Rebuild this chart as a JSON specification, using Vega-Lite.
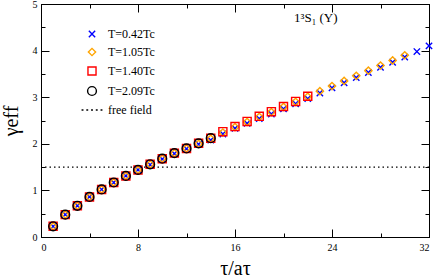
{
  "$schema": "https://vega.github.io/schema/vega-lite/v6.json",
  "width": 388,
  "height": 233,
  "autosize": "none",
  "padding": {"left": 41, "top": 4, "right": 7, "bottom": 43},
  "background": "white",
  "title": {"text": "1³S₁ (Υ)", "anchor": "start", "frame": "group", "dx": 253, "offset": -26, "font": "Liberation Serif", "fontSize": 13, "fontWeight": "normal", "color": "black"},
  "config": {
    "view": {"stroke": "black", "strokeWidth": 1},
    "axis": {"labelFont": "Liberation Serif", "labelFontSize": 10, "labelColor": "black", "tickColor": "black", "domainColor": "black", "domainWidth": 1, "tickWidth": 1, "grid": false, "titleFont": "Liberation Serif", "titleColor": "black", "titleFontWeight": "normal"},
    "legend": {"labelFont": "Liberation Serif", "labelFontSize": 12, "labelColor": "black"}
  },
  "datasets": {
    "pts": [
      {"tau": 1, "gamma": 0.23, "series": "T=0.42Tc"},
      {"tau": 2, "gamma": 0.48, "series": "T=0.42Tc"},
      {"tau": 3, "gamma": 0.67, "series": "T=0.42Tc"},
      {"tau": 4, "gamma": 0.86, "series": "T=0.42Tc"},
      {"tau": 5, "gamma": 1.02, "series": "T=0.42Tc"},
      {"tau": 6, "gamma": 1.17, "series": "T=0.42Tc"},
      {"tau": 7, "gamma": 1.31, "series": "T=0.42Tc"},
      {"tau": 8, "gamma": 1.44, "series": "T=0.42Tc"},
      {"tau": 9, "gamma": 1.55, "series": "T=0.42Tc"},
      {"tau": 10, "gamma": 1.67, "series": "T=0.42Tc"},
      {"tau": 11, "gamma": 1.79, "series": "T=0.42Tc"},
      {"tau": 12, "gamma": 1.89, "series": "T=0.42Tc"},
      {"tau": 13, "gamma": 1.99, "series": "T=0.42Tc"},
      {"tau": 14, "gamma": 2.08, "series": "T=0.42Tc"},
      {"tau": 15, "gamma": 2.21, "series": "T=0.42Tc"},
      {"tau": 16, "gamma": 2.33, "series": "T=0.42Tc"},
      {"tau": 17, "gamma": 2.44, "series": "T=0.42Tc"},
      {"tau": 18, "gamma": 2.54, "series": "T=0.42Tc"},
      {"tau": 19, "gamma": 2.64, "series": "T=0.42Tc"},
      {"tau": 20, "gamma": 2.75, "series": "T=0.42Tc"},
      {"tau": 21, "gamma": 2.86, "series": "T=0.42Tc"},
      {"tau": 22, "gamma": 2.97, "series": "T=0.42Tc"},
      {"tau": 23, "gamma": 3.09, "series": "T=0.42Tc"},
      {"tau": 24, "gamma": 3.20, "series": "T=0.42Tc"},
      {"tau": 25, "gamma": 3.31, "series": "T=0.42Tc"},
      {"tau": 26, "gamma": 3.42, "series": "T=0.42Tc"},
      {"tau": 27, "gamma": 3.53, "series": "T=0.42Tc"},
      {"tau": 28, "gamma": 3.64, "series": "T=0.42Tc"},
      {"tau": 29, "gamma": 3.75, "series": "T=0.42Tc"},
      {"tau": 30, "gamma": 3.86, "series": "T=0.42Tc"},
      {"tau": 31, "gamma": 3.98, "series": "T=0.42Tc"},
      {"tau": 32, "gamma": 4.10, "series": "T=0.42Tc"},
      {"tau": 1, "gamma": 0.23, "series": "T=1.05Tc"},
      {"tau": 2, "gamma": 0.48, "series": "T=1.05Tc"},
      {"tau": 3, "gamma": 0.67, "series": "T=1.05Tc"},
      {"tau": 4, "gamma": 0.86, "series": "T=1.05Tc"},
      {"tau": 5, "gamma": 1.02, "series": "T=1.05Tc"},
      {"tau": 6, "gamma": 1.17, "series": "T=1.05Tc"},
      {"tau": 7, "gamma": 1.31, "series": "T=1.05Tc"},
      {"tau": 8, "gamma": 1.44, "series": "T=1.05Tc"},
      {"tau": 9, "gamma": 1.56, "series": "T=1.05Tc"},
      {"tau": 10, "gamma": 1.68, "series": "T=1.05Tc"},
      {"tau": 11, "gamma": 1.80, "series": "T=1.05Tc"},
      {"tau": 12, "gamma": 1.90, "series": "T=1.05Tc"},
      {"tau": 13, "gamma": 2.00, "series": "T=1.05Tc"},
      {"tau": 14, "gamma": 2.11, "series": "T=1.05Tc"},
      {"tau": 15, "gamma": 2.24, "series": "T=1.05Tc"},
      {"tau": 16, "gamma": 2.36, "series": "T=1.05Tc"},
      {"tau": 17, "gamma": 2.47, "series": "T=1.05Tc"},
      {"tau": 18, "gamma": 2.58, "series": "T=1.05Tc"},
      {"tau": 19, "gamma": 2.68, "series": "T=1.05Tc"},
      {"tau": 20, "gamma": 2.79, "series": "T=1.05Tc"},
      {"tau": 21, "gamma": 2.90, "series": "T=1.05Tc"},
      {"tau": 22, "gamma": 3.01, "series": "T=1.05Tc"},
      {"tau": 23, "gamma": 3.13, "series": "T=1.05Tc"},
      {"tau": 24, "gamma": 3.24, "series": "T=1.05Tc"},
      {"tau": 25, "gamma": 3.35, "series": "T=1.05Tc"},
      {"tau": 26, "gamma": 3.46, "series": "T=1.05Tc"},
      {"tau": 27, "gamma": 3.57, "series": "T=1.05Tc"},
      {"tau": 28, "gamma": 3.68, "series": "T=1.05Tc"},
      {"tau": 29, "gamma": 3.79, "series": "T=1.05Tc"},
      {"tau": 30, "gamma": 3.90, "series": "T=1.05Tc"},
      {"tau": 1, "gamma": 0.23, "series": "T=1.40Tc"},
      {"tau": 2, "gamma": 0.48, "series": "T=1.40Tc"},
      {"tau": 3, "gamma": 0.67, "series": "T=1.40Tc"},
      {"tau": 4, "gamma": 0.86, "series": "T=1.40Tc"},
      {"tau": 5, "gamma": 1.02, "series": "T=1.40Tc"},
      {"tau": 6, "gamma": 1.17, "series": "T=1.40Tc"},
      {"tau": 7, "gamma": 1.31, "series": "T=1.40Tc"},
      {"tau": 8, "gamma": 1.44, "series": "T=1.40Tc"},
      {"tau": 9, "gamma": 1.56, "series": "T=1.40Tc"},
      {"tau": 10, "gamma": 1.68, "series": "T=1.40Tc"},
      {"tau": 11, "gamma": 1.80, "series": "T=1.40Tc"},
      {"tau": 12, "gamma": 1.90, "series": "T=1.40Tc"},
      {"tau": 13, "gamma": 2.01, "series": "T=1.40Tc"},
      {"tau": 14, "gamma": 2.12, "series": "T=1.40Tc"},
      {"tau": 15, "gamma": 2.26, "series": "T=1.40Tc"},
      {"tau": 16, "gamma": 2.37, "series": "T=1.40Tc"},
      {"tau": 17, "gamma": 2.48, "series": "T=1.40Tc"},
      {"tau": 18, "gamma": 2.59, "series": "T=1.40Tc"},
      {"tau": 19, "gamma": 2.69, "series": "T=1.40Tc"},
      {"tau": 20, "gamma": 2.80, "series": "T=1.40Tc"},
      {"tau": 21, "gamma": 2.91, "series": "T=1.40Tc"},
      {"tau": 22, "gamma": 3.02, "series": "T=1.40Tc"},
      {"tau": 1, "gamma": 0.23, "series": "T=2.09Tc"},
      {"tau": 2, "gamma": 0.48, "series": "T=2.09Tc"},
      {"tau": 3, "gamma": 0.67, "series": "T=2.09Tc"},
      {"tau": 4, "gamma": 0.86, "series": "T=2.09Tc"},
      {"tau": 5, "gamma": 1.02, "series": "T=2.09Tc"},
      {"tau": 6, "gamma": 1.17, "series": "T=2.09Tc"},
      {"tau": 7, "gamma": 1.31, "series": "T=2.09Tc"},
      {"tau": 8, "gamma": 1.44, "series": "T=2.09Tc"},
      {"tau": 9, "gamma": 1.56, "series": "T=2.09Tc"},
      {"tau": 10, "gamma": 1.68, "series": "T=2.09Tc"},
      {"tau": 11, "gamma": 1.80, "series": "T=2.09Tc"},
      {"tau": 12, "gamma": 1.90, "series": "T=2.09Tc"},
      {"tau": 13, "gamma": 2.01, "series": "T=2.09Tc"},
      {"tau": 14, "gamma": 2.12, "series": "T=2.09Tc"}
    ],
    "free": [{"gamma": 1.5}]
  },
  "layer": [
    {
      "data": {"name": "free"},
      "mark": {"type": "rule", "color": "black", "strokeDash": [1.5, 3], "strokeWidth": 1.2},
      "encoding": {
        "y": {"field": "gamma", "type": "quantitative", "scale": {"domain": [0, 5], "nice": false, "zero": false},
          "axis": {"orient": "right", "values": [0, 0.5, 1, 1.5, 2, 2.5, 3, 3.5, 4, 4.5, 5], "labels": false, "title": null,
            "tickSize": {"condition": {"test": "datum.value % 1 == 0", "value": -8}, "value": -4}}}
      }
    },
    {
      "data": {"name": "pts"},
      "mark": {"type": "point", "filled": false, "opacity": 0},
      "encoding": {
        "x": {"field": "tau", "type": "quantitative", "scale": {"domain": [0, 32], "nice": false, "zero": false},
          "axis": {"orient": "top", "values": [0, 4, 8, 12, 16, 20, 24, 28, 32], "labels": false, "title": null,
            "tickSize": {"condition": {"test": "datum.value % 8 == 0", "value": -8}, "value": -4}}},
        "y": {"field": "gamma", "type": "quantitative", "axis": null}
      }
    },
    {
      "data": {"name": "pts"},
      "mark": {"type": "point", "filled": false, "strokeWidth": 1.4, "opacity": 1},
      "encoding": {
        "x": {"field": "tau", "type": "quantitative",
          "axis": {"orient": "bottom", "values": [0, 4, 8, 12, 16, 20, 24, 28, 32], "labelExpr": "datum.value % 8 == 0 ? format(datum.value, 'd') : ''",
            "tickSize": {"condition": {"test": "datum.value % 8 == 0", "value": -8}, "value": -4}, "labelPadding": 13,
            "title": "τ/aτ", "titleFontSize": 20, "titlePadding": 6}},
        "y": {"field": "gamma", "type": "quantitative",
          "axis": {"orient": "left", "values": [0, 0.5, 1, 1.5, 2, 2.5, 3, 3.5, 4, 4.5, 5], "labelExpr": "datum.value % 1 == 0 ? format(datum.value, 'd') : ''",
            "tickSize": {"condition": {"test": "datum.value % 1 == 0", "value": -8}, "value": -4}, "labelPadding": 12,
            "title": "γeff", "titleFontSize": 20, "titlePadding": 11}},
        "shape": {"field": "series", "type": "nominal",
          "scale": {"domain": ["T=0.42Tc", "T=1.05Tc", "T=1.40Tc", "T=2.09Tc", "free field"],
            "range": ["M-1,-1L1,1M-1,1L1,-1", "diamond", "square", "circle", "M-2.2,0L-1.8,0M-1.2,0L-0.8,0M-0.2,0L0.2,0M0.8,0L1.2,0M1.8,0L2.2,0"]},
          "legend": {"orient": "none", "legendX": 45, "legendY": 24, "title": null, "padding": 0, "rowPadding": 5, "symbolStrokeWidth": 1.4, "labelOffset": 10}},
        "color": {"field": "series", "type": "nominal",
          "scale": {"domain": ["T=0.42Tc", "T=1.05Tc", "T=1.40Tc", "T=2.09Tc", "free field"],
            "range": ["#0000ff", "#ffa500", "#ff0000", "#000000", "#000000"]}},
        "size": {"field": "series", "type": "nominal",
          "scale": {"domain": ["T=0.42Tc", "T=1.05Tc", "T=1.40Tc", "T=2.09Tc", "free field"],
            "range": [40, 90, 72, 64, 50]}}
      }
    }
  ]
}
